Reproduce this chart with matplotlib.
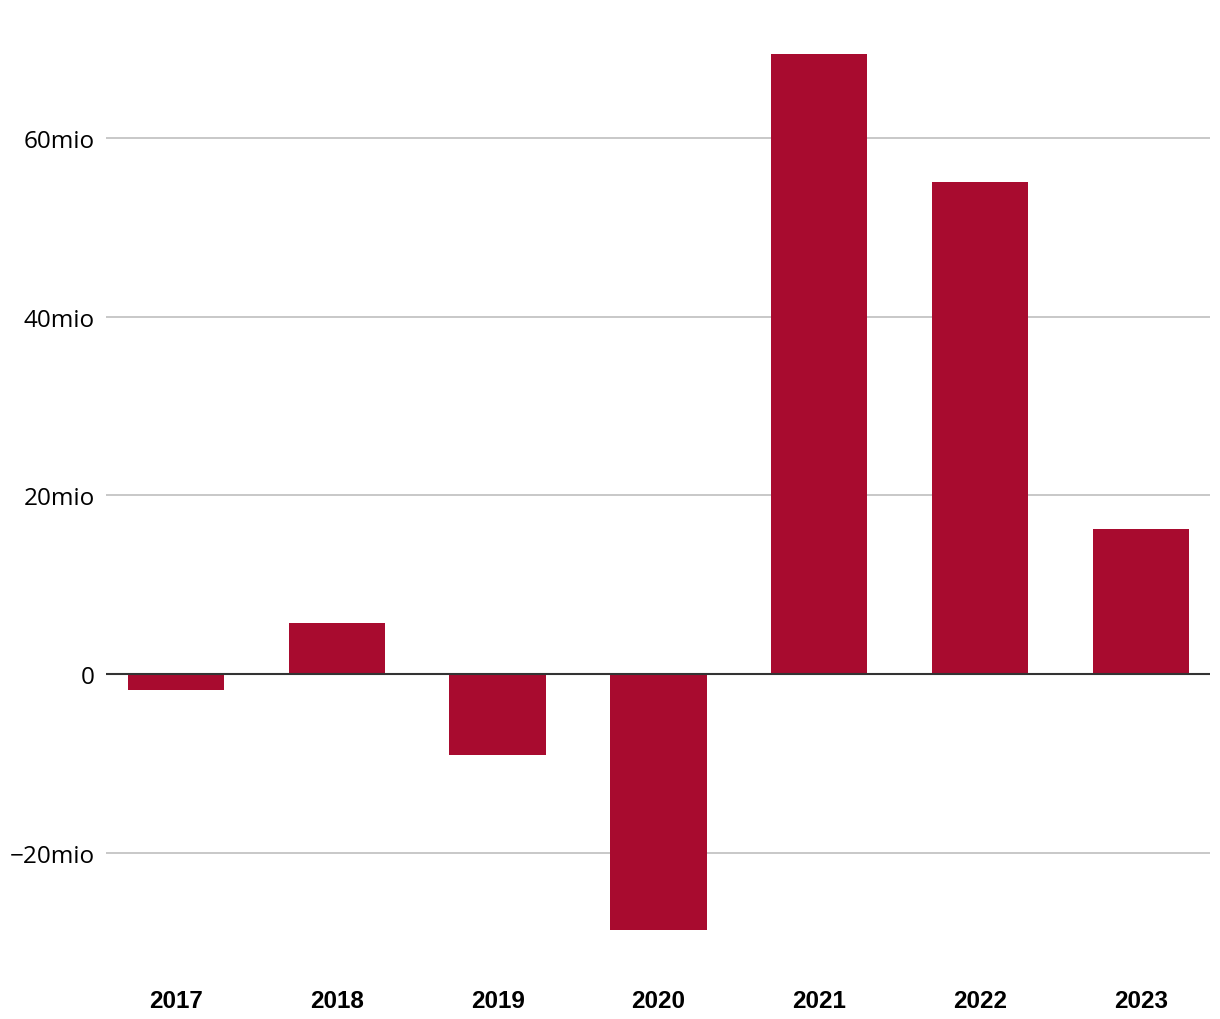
import matplotlib
matplotlib.use("Agg")
from matplotlib import pyplot as plt
from matplotlib.ticker import FuncFormatter

# data (mio)
years = ["2017", "2018", "2019", "2020", "2021", "2022", "2023"]
values = [-1.8, 5.7, -9.1, -28.7, 69.4, 55.1, 16.3]
yticks = [-20, 0, 20, 40, 60]

fig = plt.figure(figsize=(12.2, 10.2), dpi=100)
ax = fig.add_axes([106/1220, 0.058, 1104/1220, 0.9105])

x = range(len(years))
ax.bar(x, values, width=0.6, color="#a80b2f", zorder=2)

ax.set_xlim(-0.435, len(years) - 1 + 0.43)
ax.set_ylim(-32, 72)

# grid + zero line
ax.set_yticks(yticks)
ax.yaxis.grid(True, color="#c4c4c4", linewidth=1.3, zorder=0)
ax.axhline(0, color="#333333", linewidth=1.5, zorder=3)

def fmt(v, pos):
    if v == 0:
        return "0"
    return ("\u2212" if v < 0 else "") + "%dmio" % abs(v)

ax.yaxis.set_major_formatter(FuncFormatter(fmt))
ax.set_xticks(list(x))
ax.set_xticklabels(years, fontfamily="Liberation Sans", fontweight="bold", fontsize=17.5)
for lab in ax.get_yticklabels():
    lab.set_fontfamily("Open Sans")
    lab.set_fontsize(17.5)

ax.tick_params(axis="y", length=0, pad=8)
ax.tick_params(axis="x", length=0, pad=21)
for s in ax.spines.values():
    s.set_visible(False)

fig.savefig("out.png", dpi=100)
